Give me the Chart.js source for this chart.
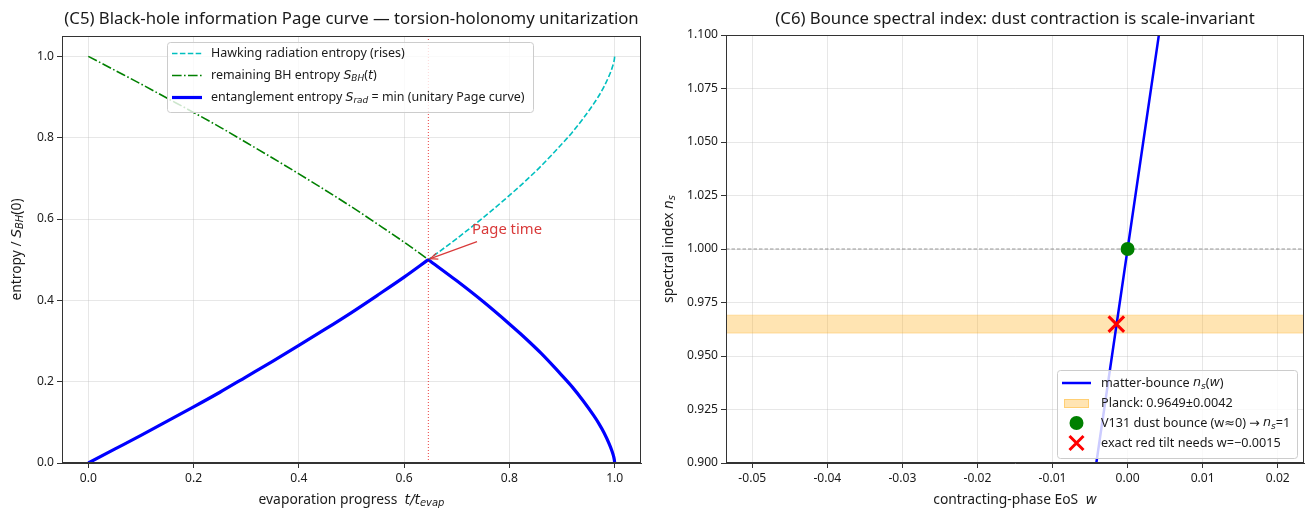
<!DOCTYPE html>
<html>
<head>
<meta charset="utf-8">
<script src="https://cdn.jsdelivr.net/npm/chart.js@4.4.1/dist/chart.umd.min.js"></script>
<style>
  body { margin: 0; background: #fff; width: 1308px; height: 514px; overflow: hidden; position: relative; }
  .panel { position: absolute; top: 0; height: 514px; }
</style>
</head>
<body>
<div class="panel" style="left:0;width:654px"><canvas id="c5" width="654" height="514"></canvas></div>
<div class="panel" style="left:654px;width:664px"><canvas id="c6" width="664" height="514"></canvas></div>
<script>
// ---- (C5) Page curve data ----
const tGrid = [0, 0.05, 0.1, 0.15, 0.2, 0.25, 0.3, 0.35, 0.4, 0.45, 0.5, 0.55, 0.6, 0.646,
               0.7, 0.75, 0.8, 0.82, 0.84, 0.86, 0.88, 0.9, 0.92, 0.94, 0.96,
               0.97, 0.98, 0.99, 0.995, 0.998, 0.9995, 1.0];
const sBH   = [1, 0.966, 0.932, 0.897, 0.862, 0.826, 0.788, 0.750, 0.711, 0.671, 0.630, 0.587, 0.543, 0.500,
               0.448, 0.397, 0.342, 0.319, 0.295, 0.270, 0.243, 0.215, 0.186, 0.153, 0.117,
               0.097, 0.074, 0.046, 0.029, 0.016, 0.006, 0];
const sHawk = [0, 0.034, 0.068, 0.103, 0.138, 0.174, 0.212, 0.250, 0.289, 0.329, 0.370, 0.413, 0.457, 0.500,
               0.552, 0.603, 0.658, 0.681, 0.705, 0.730, 0.757, 0.785, 0.814, 0.847, 0.883,
               0.903, 0.926, 0.954, 0.971, 0.984, 0.994, 1];
const tPage = 0.646;
const c5XTicks = [0, 0.2, 0.4, 0.6, 0.8, 1.0];
const c5YTicks = [0, 0.2, 0.4, 0.6, 0.8, 1.0];

// ---- (C6) bounce spectral index data ----
const wGrid    = [-0.006, -0.004, -0.002, 0, 0.002, 0.004, 0.006];
const nsBounce = [0.856, 0.904, 0.952, 1.000, 1.048, 1.096, 1.144];
const planckNs = 0.9649, planckErr = 0.0042;
const dustPoint = { w: 0, ns: 1.0 };
const tiltPoint = { w: -0.0015, ns: 0.9649 };
const c6XTicks = [-0.05, -0.04, -0.03, -0.02, -0.01, 0, 0.01, 0.02];
const c6YTicks = [0.9, 0.925, 0.95, 0.975, 1.0, 1.025, 1.05, 1.075, 1.1];
const wLim = [-0.0535, 0.0235];

// entanglement entropy is the smaller of the two; split at the Page time
const sRad = sHawk.map((v, i) => Math.min(v, sBH[i]));
const iPage = tGrid.indexOf(tPage);

const FONT = '"Noto Sans", "DejaVu Sans", sans-serif';
const MATH = '"DejaVu Sans", sans-serif';
const INK = '#1a1a1a';
const GRID = 'rgba(176,176,176,0.3)';

const fontFor = (p, size) => p[1] === 'r' ? `${size}px ${FONT}`
  : p[1] === 'i' ? `italic ${size}px ${MATH}` : `italic ${size * 0.72}px ${MATH}`;

function richWidth(ctx, parts, size) {
  let w = 0;
  parts.forEach(p => { ctx.font = fontFor(p, size); w += ctx.measureText(p[0]).width; });
  return w;
}

// pick a font size so the text spans the width measured on the reference
const mctx = document.createElement('canvas').getContext('2d');
const fit = (parts, target) => 100 * target / richWidth(mctx, parts, 100);

// draw text with mathtext-ish pieces: [text, 'r' | 'i' | 's']
function rich(ctx, parts, x, y, size, align) {
  const w = richWidth(ctx, parts, size);
  if (align === 'center') x -= w / 2;
  ctx.textBaseline = 'middle';
  ctx.textAlign = 'left';
  parts.forEach(p => {
    ctx.font = fontFor(p, size);
    ctx.fillText(p[0], x, y + (p[1] === 's' ? size * 0.28 : 0));
    x += ctx.measureText(p[0]).width;
  });
}

const T5 = [['(C5) Black-hole information Page curve — torsion-holonomy unitarization', 'r']];
const T6 = [['(C6) Bounce spectral index: dust contraction is scale-invariant', 'r']];
const X5 = [['evaporation progress  ', 'r'], ['t/t', 'i'], ['evap', 's']];
const Y5 = [['entropy / ', 'r'], ['S', 'i'], ['BH', 's'], ['(0)', 'r']];
const X6 = [['contracting-phase EoS  ', 'r'], ['w', 'i']];
const Y6 = [['spectral index ', 'r'], ['n', 'i'], ['s', 's']];
const PT = [['Page time', 'r']];
const L5 = [
  [['Hawking radiation entropy (rises)', 'r']],
  [['remaining BH entropy ', 'r'], ['S', 'i'], ['BH', 's'], ['(', 'r'], ['t', 'i'], [')', 'r']],
  [['entanglement entropy ', 'r'], ['S', 'i'], ['rad', 's'], [' = min (unitary Page curve)', 'r']]
];
const L6 = [
  [['matter-bounce ', 'r'], ['n', 'i'], ['s', 's'], ['(', 'r'], ['w', 'i'], [')', 'r']],
  [['Planck: 0.9649±0.0042', 'r']],
  [['V131 dust bounce (w≈0) → ', 'r'], ['n', 'i'], ['s', 's'], ['=1', 'r']],
  [['exact red tilt needs w=−0.0015', 'r']]
];
const sizeTitle = fit(T5, 575);
const sizeAxis = fit(X5, 186);
const sizePT = fit(PT, 70);
const sizeL5 = fit(L5[0], 194), sizeL6 = fit(L6[3], 180);
const sizeTick = fit([['0.900', 'r']], 31);

function legendBox(ctx, x, y, w, h) {
  ctx.save();
  ctx.beginPath();
  ctx.roundRect(x + 0.5, y + 0.5, w, h, 3);
  ctx.fillStyle = 'rgba(255,255,255,0.8)';
  ctx.fill();
  ctx.strokeStyle = '#cccccc';
  ctx.lineWidth = 1;
  ctx.stroke();
  ctx.restore();
}

function seg(ctx, x1, x2, y, color, width, dash) {
  ctx.save();
  ctx.strokeStyle = color; ctx.lineWidth = width; ctx.setLineDash(dash || []);
  ctx.beginPath(); ctx.moveTo(x1, y); ctx.lineTo(x2, y); ctx.stroke();
  ctx.restore();
}

function baseScale(min, max, ticks, digits, fitFn) {
  return {
    type: 'linear', min, max,
    afterBuildTicks: s => { s.ticks = ticks.map(v => ({ value: v })); },
    afterFit: s => { fitFn(s); s.paddingLeft = 0; s.paddingRight = 0; s.paddingTop = 0; s.paddingBottom = 0; },
    ticks: { callback: v => v.toFixed(digits), font: { family: FONT, size: sizeTick }, color: INK, padding: 3, maxRotation: 0, autoSkip: false },
    grid: { color: GRID, lineWidth: 1, tickColor: '#333', tickLength: 5 },
    border: { color: '#333', width: 1 }
  };
}

const frame = {
  id: 'frame',
  afterDatasetsDraw(chart) {
    const a = chart.chartArea, ctx = chart.ctx;
    ctx.save();
    ctx.strokeStyle = '#333'; ctx.lineWidth = 1;
    ctx.strokeRect(Math.round(a.left) + 0.5, Math.round(a.top) + 0.5, Math.round(a.right - a.left) - 1, Math.round(a.bottom - a.top) - 1);
    ctx.restore();
  }
};

// ---------------- C5 ----------------
const c5Extras = {
  id: 'c5Extras',
  afterDraw(chart) {
    const ctx = chart.ctx, a = chart.chartArea;
    const xs = chart.scales.x, ys = chart.scales.y;
    ctx.save();
    ctx.fillStyle = INK;
    rich(ctx, T5, (a.left + a.right) / 2, 19, sizeTitle, 'center');
    rich(ctx, X5, (a.left + a.right) / 2, 500, sizeAxis, 'center');
    ctx.save();
    ctx.translate(17, (a.top + a.bottom) / 2);
    ctx.rotate(-Math.PI / 2);
    rich(ctx, Y5, 0, 0, sizeAxis, 'center');
    ctx.restore();

    // Page time annotation
    const tipX = xs.getPixelForValue(tPage) + 2, tipY = ys.getPixelForValue(0.5) - 1;
    const txtX = xs.getPixelForValue(0.729), txtY = ys.getPixelForValue(0.574);
    ctx.fillStyle = '#d93a3a';
    rich(ctx, PT, txtX, txtY, sizePT, 'left');
    const sx = txtX + 5, sy = txtY + 12;
    ctx.strokeStyle = '#d93a3a'; ctx.lineWidth = 1.2;
    ctx.beginPath(); ctx.moveTo(sx, sy); ctx.lineTo(tipX, tipY); ctx.stroke();
    const ang = Math.atan2(tipY - sy, tipX - sx);
    ctx.beginPath();
    ctx.moveTo(tipX - 8 * Math.cos(ang - 0.4), tipY - 8 * Math.sin(ang - 0.4));
    ctx.lineTo(tipX, tipY);
    ctx.lineTo(tipX - 8 * Math.cos(ang + 0.4), tipY - 8 * Math.sin(ang + 0.4));
    ctx.stroke();

    // legend
    legendBox(ctx, 167, 42, 366, 70);
    const hx1 = 172, hx2 = 202, tx = 211, rows = [53.5, 75.5, 97.5];
    seg(ctx, hx1, hx2, rows[0], '#00bfbf', 1.6, [5.5, 2.4]);
    seg(ctx, hx1, hx2, rows[1], '#008000', 1.6, [9.6, 2.4, 1.6, 2.4]);
    seg(ctx, hx1, hx2, rows[2], '#0000ff', 3.2);
    ctx.fillStyle = INK;
    L5.forEach((parts, i) => rich(ctx, parts, tx, rows[i], sizeL5, 'left'));
    ctx.restore();
  }
};

const blueStyle = { borderColor: '#0000ff', borderWidth: 3.2, pointRadius: 0, order: 1, cubicInterpolationMode: 'monotone' };

new Chart(document.getElementById('c5'), {
  type: 'line',
  data: {
    datasets: [
      { data: tGrid.map((t, i) => ({ x: t, y: sHawk[i] })), borderColor: '#00bfbf', borderWidth: 1.6, borderDash: [5.5, 2.4], pointRadius: 0, order: 3, cubicInterpolationMode: 'monotone' },
      { data: tGrid.map((t, i) => ({ x: t, y: sBH[i] })), borderColor: '#008000', borderWidth: 1.6, borderDash: [9.6, 2.4, 1.6, 2.4], pointRadius: 0, order: 2, cubicInterpolationMode: 'monotone' },
      { ...blueStyle, data: tGrid.slice(0, iPage + 1).map((t, i) => ({ x: t, y: sRad[i] })) },
      { ...blueStyle, data: tGrid.slice(iPage).map((t, i) => ({ x: t, y: sRad[i + iPage] })) },
      { data: [{ x: tPage, y: 0 }, { x: tPage, y: 1.05 }], borderColor: 'rgba(230,0,0,0.75)', borderWidth: 1, borderDash: [1, 2], pointRadius: 0, order: 0 }
    ]
  },
  options: {
    responsive: false, animation: false,
    layout: { padding: { left: 0, right: 13, top: 36, bottom: 0 } },
    plugins: { legend: { display: false }, tooltip: { enabled: false } },
    elements: { line: { tension: 0, fill: false } },
    scales: {
      x: baseScale(-0.05, 1.05, c5XTicks, 1, s => { s.height = 51; }),
      y: baseScale(0, 1.05, c5YTicks, 1, s => { s.width = 62; })
    }
  },
  plugins: [frame, c5Extras]
});

// ---------------- C6 ----------------
const c6Extras = {
  id: 'c6Extras',
  afterDraw(chart) {
    const ctx = chart.ctx, a = chart.chartArea;
    ctx.save();
    ctx.fillStyle = INK;
    rich(ctx, T6, (a.left + a.right) / 2, 19, sizeTitle, 'center');
    rich(ctx, X6, (a.left + a.right) / 2, 500, sizeAxis, 'center');
    ctx.save();
    ctx.translate(15, (a.top + a.bottom) / 2);
    ctx.rotate(-Math.PI / 2);
    rich(ctx, Y6, 0, 0, sizeAxis, 'center');
    ctx.restore();

    // legend, anchored to the lower right corner of the plot
    const lx = a.right - 247, ly = a.bottom - 93;
    legendBox(ctx, lx, ly, 240, 88);
    const hx1 = lx + 5, hx2 = lx + 34, hm = lx + 19.5, tx = lx + 44;
    const rows = [ly + 13, ly + 33, ly + 53, ly + 73];
    seg(ctx, hx1, hx2, rows[0], '#0000ff', 2.5);
    ctx.fillStyle = 'rgba(255,165,0,0.3)';
    ctx.fillRect(hx1 + 2, rows[1] - 4, hx2 - hx1 - 4, 9);
    ctx.strokeStyle = 'rgba(255,165,0,0.35)';
    ctx.lineWidth = 1;
    ctx.strokeRect(hx1 + 2.5, rows[1] - 3.5, hx2 - hx1 - 5, 8);
    ctx.fillStyle = '#008000';
    ctx.beginPath(); ctx.arc(hm, rows[2], 7, 0, Math.PI * 2); ctx.fill();
    ctx.strokeStyle = '#ff0000'; ctx.lineWidth = 3;
    ctx.beginPath();
    ctx.moveTo(hm - 7, rows[3] - 7); ctx.lineTo(hm + 7, rows[3] + 7);
    ctx.moveTo(hm - 7, rows[3] + 7); ctx.lineTo(hm + 7, rows[3] - 7);
    ctx.stroke();
    ctx.fillStyle = INK;
    L6.forEach((parts, i) => rich(ctx, parts, tx, rows[i], sizeL6, 'left'));
    ctx.restore();
  }
};

new Chart(document.getElementById('c6'), {
  type: 'line',
  data: {
    datasets: [
      { data: [{ x: tiltPoint.w, y: tiltPoint.ns }], showLine: false, pointStyle: 'crossRot', pointRadius: 11, pointBorderWidth: 3, pointBorderColor: '#ff0000', borderColor: '#ff0000', order: 0 },
      { data: [{ x: dustPoint.w, y: dustPoint.ns }], showLine: false, pointStyle: 'circle', pointRadius: 7, pointBorderWidth: 0, pointBackgroundColor: '#008000', borderColor: '#008000', order: 1 },
      { data: wGrid.map((w, i) => ({ x: w, y: nsBounce[i] })), borderColor: '#0000ff', borderWidth: 2.5, pointRadius: 0, order: 2 },
      { data: wLim.map(w => ({ x: w, y: 1.0 })), borderColor: 'rgba(128,128,128,0.8)', borderWidth: 1, borderDash: [3.5, 2], pointRadius: 0, order: 3 },
      { data: wLim.map(w => ({ x: w, y: planckNs + planckErr })), borderColor: 'rgba(255,165,0,0.3)', borderWidth: 1,
        backgroundColor: 'rgba(255,165,0,0.3)', fill: { value: planckNs - planckErr }, pointRadius: 0, order: 4 },
      { data: wLim.map(w => ({ x: w, y: planckNs - planckErr })), borderColor: 'rgba(255,165,0,0.3)', borderWidth: 1, pointRadius: 0, order: 5 }
    ]
  },
  options: {
    responsive: false, animation: false,
    layout: { padding: { left: 0, right: 0, top: 35, bottom: 0 } },
    plugins: { legend: { display: false }, tooltip: { enabled: false } },
    elements: { line: { tension: 0 } },
    scales: {
      x: baseScale(wLim[0], wLim[1], c6XTicks, 2, s => { s.height = 51; }),
      y: baseScale(0.9, 1.1, c6YTicks, 3, s => { s.width = 72; })
    }
  },
  plugins: [frame, c6Extras]
});
</script>
</body>
</html>
